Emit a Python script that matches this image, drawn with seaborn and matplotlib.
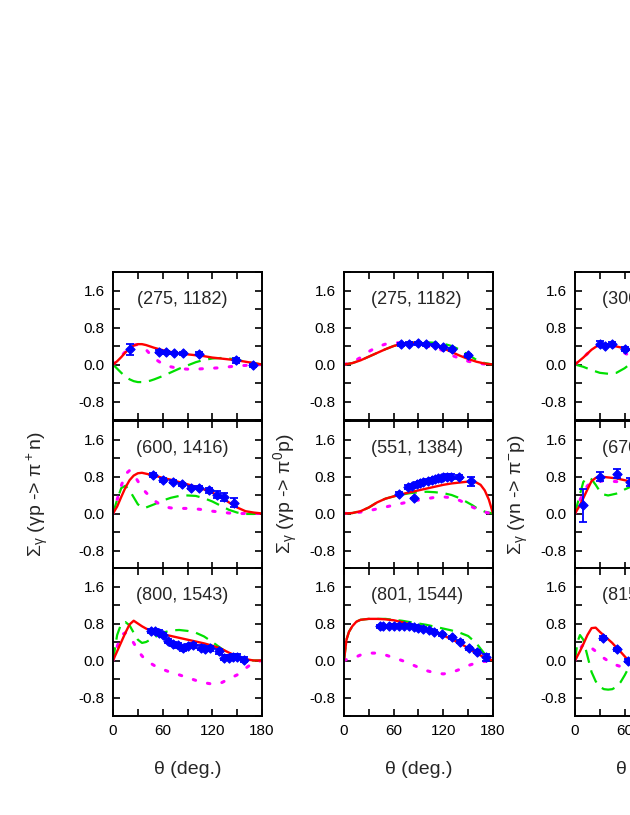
import numpy as np
import matplotlib
matplotlib.use("Agg")
import matplotlib.pyplot as plt
from matplotlib.ticker import FixedLocator, MultipleLocator, FormatStrFormatter
import seaborn as sns

# ---------------- data ----------------
# column 1: gamma p -> pi+ n
p11_title = "(275, 1182)"
p11_th = [0, 5, 10, 15, 20, 25, 30, 35, 40, 45, 50, 60, 70, 80, 90, 100, 110, 120, 130, 140, 150, 160, 170, 180]
p11_red = [0, 0.07, 0.16, 0.26, 0.35, 0.41, 0.44, 0.44, 0.42, 0.39, 0.36, 0.31, 0.27, 0.24, 0.22, 0.2, 0.18, 0.15, 0.13, 0.11, 0.09, 0.06, 0.03, 0]
p11_green = [0, -0.09, -0.18, -0.26, -0.32, -0.36, -0.38, -0.38, -0.37, -0.35, -0.32, -0.25, -0.17, -0.09, -0.02, 0.05, 0.1, 0.13, 0.14, 0.13, 0.1, 0.06, 0.03, 0]
p11_mag = [0, 0.08, 0.18, 0.28, 0.37, 0.42, 0.43, 0.40, 0.32, 0.22, 0.13, 0.01, -0.05, -0.09, -0.1, -0.1, -0.09, -0.08, -0.07, -0.05, -0.03, -0.02, -0.01, 0]
p11_dth = [20, 55, 64, 74, 85, 104, 149, 169]
p11_dval = [0.33, 0.28, 0.26, 0.25, 0.24, 0.23, 0.09, -0.02]
p11_derr = [0.12, 0.03, 0.03, 0.03, 0.03, 0.03, 0.05, 0.04]

p21_title = "(600, 1416)"
p21_th = [0, 5, 10, 15, 20, 25, 30, 35, 40, 50, 60, 70, 80, 90, 100, 110, 120, 130, 140, 150, 160, 170, 180]
p21_red = [0, 0.15, 0.36, 0.56, 0.72, 0.82, 0.87, 0.88, 0.86, 0.82, 0.77, 0.73, 0.68, 0.63, 0.58, 0.52, 0.45, 0.36, 0.24, 0.13, 0.05, 0.02, 0]
p21_green = [0, 0.3, 0.55, 0.6, 0.5, 0.35, 0.2, 0.13, 0.13, 0.2, 0.28, 0.34, 0.38, 0.39, 0.38, 0.33, 0.26, 0.17, 0.08, 0.02, -0.01, -0.01, 0]
p21_mag = [0, 0.3, 0.6, 0.85, 0.93, 0.85, 0.7, 0.56, 0.45, 0.28, 0.15, 0.12, 0.11, 0.11, 0.1, 0.08, 0.05, 0.03, 0.01, 0, 0, 0, 0]
p21_dth = [48, 61, 72, 83, 94, 104, 116, 126, 134, 146]
p21_dval = [0.83, 0.73, 0.69, 0.63, 0.56, 0.56, 0.5, 0.41, 0.36, 0.23]
p21_derr = [0.04, 0.04, 0.04, 0.04, 0.04, 0.04, 0.05, 0.08, 0.08, 0.1]

p31_title = "(800, 1543)"
p31_th = [0, 5, 10, 15, 20, 25, 30, 35, 40, 50, 60, 70, 80, 90, 100, 110, 120, 130, 140, 150, 160, 170, 180]
p31_red = [0, 0.2, 0.4, 0.6, 0.78, 0.86, 0.8, 0.74, 0.69, 0.62, 0.57, 0.53, 0.49, 0.45, 0.41, 0.37, 0.32, 0.26, 0.17, 0.09, 0.03, 0, 0]
p31_green = [0, 0.55, 0.8, 0.83, 0.76, 0.6, 0.45, 0.38, 0.4, 0.5, 0.6, 0.65, 0.66, 0.64, 0.6, 0.52, 0.4, 0.27, 0.15, 0.06, 0.01, 0, 0]
p31_mag = [0, 0.3, 0.55, 0.6, 0.5, 0.38, 0.22, 0.1, 0.0, -0.11, -0.19, -0.26, -0.31, -0.37, -0.43, -0.48, -0.51, -0.49, -0.40, -0.31, -0.17, -0.04, 0]
p31_dth = [46, 51, 56, 61, 66, 72, 78, 85, 90, 97, 106, 111, 117, 128, 134, 140, 145, 150, 158]
p31_dval = [0.64, 0.64, 0.6, 0.55, 0.42, 0.36, 0.33, 0.26, 0.31, 0.33, 0.28, 0.25, 0.26, 0.2, 0.06, 0.06, 0.08, 0.08, 0.02]
p31_derr = [0.05] * 19

# column 2: gamma p -> pi0 p
p12_title = "(275, 1182)"
p12_th = [0, 10, 20, 30, 40, 50, 60, 70, 80, 90, 100, 110, 120, 130, 140, 150, 160, 170, 180]
p12_red = [0, 0.03, 0.09, 0.17, 0.25, 0.33, 0.40, 0.45, 0.47, 0.47, 0.45, 0.41, 0.35, 0.27, 0.19, 0.12, 0.06, 0.02, 0]
p12_green = [0, 0.03, 0.09, 0.17, 0.25, 0.33, 0.40, 0.45, 0.47, 0.48, 0.48, 0.47, 0.45, 0.40, 0.32, 0.21, 0.1, 0.03, 0]
p12_mag = [0, 0.05, 0.15, 0.28, 0.38, 0.44, 0.47, 0.47, 0.46, 0.43, 0.40, 0.36, 0.30, 0.20, 0.13, 0.07, 0.03, 0.01, 0]
p12_dth = [69, 79, 89, 99, 110, 120, 130, 150]
p12_dval = [0.44, 0.45, 0.46, 0.44, 0.42, 0.38, 0.33, 0.2]
p12_derr = [0.03] * 8

p22_title = "(551, 1384)"
p22_th = [0, 10, 20, 30, 40, 50, 60, 70, 80, 90, 100, 110, 120, 130, 140, 150, 155, 160, 165, 170, 175, 180]
p22_red = [0, 0.01, 0.05, 0.13, 0.24, 0.32, 0.37, 0.42, 0.46, 0.5, 0.54, 0.58, 0.62, 0.65, 0.67, 0.69, 0.69, 0.67, 0.62, 0.5, 0.3, 0]
p22_green = [0, 0.01, 0.05, 0.13, 0.24, 0.32, 0.37, 0.41, 0.44, 0.46, 0.47, 0.46, 0.44, 0.40, 0.33, 0.23, 0.18, 0.12, 0.08, 0.04, 0.02, 0]
p22_mag = [0, 0.01, 0.03, 0.06, 0.1, 0.14, 0.18, 0.22, 0.26, 0.29, 0.32, 0.35, 0.36, 0.34, 0.28, 0.19, 0.14, 0.1, 0.06, 0.03, 0.01, 0]
p22_dth = [67, 77, 82, 84, 88, 92, 96, 101, 106, 110, 114, 117, 120, 124, 129, 139, 153]
p22_dval = [0.43, 0.57, 0.6, 0.34, 0.63, 0.66, 0.68, 0.7, 0.72, 0.74, 0.76, 0.77, 0.78, 0.8, 0.8, 0.79, 0.7]
p22_derr = [0.04, 0.05, 0.04, 0.0, 0.05, 0.04, 0.04, 0.04, 0.04, 0.04, 0.04, 0.04, 0.04, 0.05, 0.05, 0.05, 0.1]

p32_title = "(801, 1544)"
p32_th = [0, 3, 6, 10, 15, 20, 30, 40, 50, 60, 70, 80, 90, 100, 110, 120, 130, 140, 150, 160, 170, 180]
p32_red = [0, 0.45, 0.62, 0.74, 0.84, 0.88, 0.9, 0.9, 0.89, 0.87, 0.83, 0.78, 0.72, 0.67, 0.61, 0.54, 0.46, 0.37, 0.27, 0.16, 0.06, 0]
p32_green = [0, 0.45, 0.62, 0.74, 0.84, 0.88, 0.9, 0.9, 0.9, 0.88, 0.86, 0.83, 0.8, 0.77, 0.73, 0.69, 0.65, 0.6, 0.53, 0.37, 0.14, 0]
p32_mag = [0, 0.02, 0.03, 0.05, 0.08, 0.12, 0.16, 0.16, 0.12, 0.06, 0.0, -0.07, -0.15, -0.22, -0.27, -0.29, -0.26, -0.19, -0.11, -0.05, -0.02, 0]
p32_dth = [43, 47, 54, 60, 66, 72, 78, 84, 90, 96, 103, 109, 118, 130, 140, 151, 161, 171]
p32_dval = [0.74, 0.74, 0.74, 0.75, 0.75, 0.75, 0.75, 0.73, 0.71, 0.69, 0.66, 0.62, 0.57, 0.5, 0.41, 0.26, 0.19, 0.07]
p32_derr = [0.03] * 17 + [0.08]

# column 3: gamma n -> pi- p (partly outside the picture)
p13_title = "(300, 1203)"
p13_th = [0, 10, 20, 30, 40, 50, 60, 70, 80]
p13_red = [0, 0.15, 0.32, 0.44, 0.42, 0.39, 0.35, 0.3, 0.26]
p13_green = [0, -0.05, -0.12, -0.18, -0.2, -0.18, -0.08, 0.06, 0.12]
p13_mag = [0, 0.15, 0.32, 0.43, 0.43, 0.36, 0.25, 0.15, 0.1]
p13_dth = [30, 36, 45, 61]
p13_dval = [0.45, 0.41, 0.44, 0.33]
p13_derr = [0.05, 0.04, 0.04, 0.04]

p23_title = "(670, 1464)"
p23_th = [0, 5, 10, 15, 20, 25, 30, 35, 40, 50, 55, 60, 70, 80]
p23_red = [0, 0.15, 0.33, 0.52, 0.7, 0.77, 0.79, 0.79, 0.78, 0.76, 0.74, 0.72, 0.68, 0.64]
p23_green = [0, 0.35, 0.68, 0.78, 0.74, 0.62, 0.48, 0.41, 0.39, 0.43, 0.47, 0.52, 0.6, 0.62]
p23_mag = [0, 0.25, 0.45, 0.6, 0.67, 0.69, 0.7, 0.7, 0.7, 0.69, 0.68, 0.67, 0.64, 0.6]
p23_dth = [10, 30, 51, 66]
p23_dval = [0.18, 0.8, 0.86, 0.68]
p23_derr = [0.36, 0.1, 0.1, 0.08]

p33_title = "(815, 1554)"
p33_th = [0, 3, 6, 10, 15, 20, 25, 30, 35, 40, 45, 50, 55, 60, 65, 70, 80]
p33_red = [0, 0.1, 0.2, 0.35, 0.55, 0.7, 0.71, 0.62, 0.54, 0.46, 0.38, 0.28, 0.19, 0.09, -0.01, -0.07, -0.15]
p33_green = [0, 0.4, 0.55, 0.45, 0.1, -0.25, -0.45, -0.57, -0.62, -0.63, -0.62, -0.57, -0.47, -0.32, -0.15, 0.02, 0.2]
p33_mag = [0, 0.15, 0.25, 0.35, 0.34, 0.27, 0.2, 0.12, 0.05, -0.01, -0.06, -0.1, -0.13, -0.15, -0.15, -0.14, -0.1]
p33_dth = [34, 51, 64]
p33_dval = [0.49, 0.24, 0.0]
p33_derr = [0.04, 0.04, 0.04]

ylabels = [r"$Σ_γ$ (γp -> $π^+$n)", r"$Σ_γ$ (γp -> $π^0$p)", r"$Σ_γ$ (γn -> $π^{-}$p)"]
xlabel = "θ (deg.)"
xticks = [0, 60, 120, 180]
yticks = [-0.8, 0.0, 0.8, 1.6]

panels = [
    [(p11_title, p11_th, p11_red, p11_green, p11_mag, p11_dth, p11_dval, p11_derr),
     (p21_title, p21_th, p21_red, p21_green, p21_mag, p21_dth, p21_dval, p21_derr),
     (p31_title, p31_th, p31_red, p31_green, p31_mag, p31_dth, p31_dval, p31_derr)],
    [(p12_title, p12_th, p12_red, p12_green, p12_mag, p12_dth, p12_dval, p12_derr),
     (p22_title, p22_th, p22_red, p22_green, p22_mag, p22_dth, p22_dval, p22_derr),
     (p32_title, p32_th, p32_red, p32_green, p32_mag, p32_dth, p32_dval, p32_derr)],
    [(p13_title, p13_th, p13_red, p13_green, p13_mag, p13_dth, p13_dval, p13_derr),
     (p23_title, p23_th, p23_red, p23_green, p23_mag, p23_dth, p23_dval, p23_derr),
     (p33_title, p33_th, p33_red, p33_green, p33_mag, p33_dth, p33_dval, p33_derr)],
]

# ---------------- style ----------------
sns.set_theme(style="ticks")
plt.rcParams["font.family"] = ["Liberation Sans", "DejaVu Sans"]
plt.rcParams["mathtext.fontset"] = "custom"
plt.rcParams["mathtext.rm"] = "Liberation Sans"
plt.rcParams["mathtext.it"] = "Liberation Sans"
plt.rcParams["mathtext.default"] = "regular"
plt.rcParams["axes.unicode_minus"] = False

W, H = 630, 815
fig = plt.figure(figsize=(W / 100, H / 100), dpi=100)

col_left = [113, 344, 575]
row_top = [272, 421, 568]
aw, ah = 149, 148
ylab_x = [37, 286, 518]
title_x = [0.465, 0.487, 0.49]

for c in range(3):
    for r in range(3):
        title, th, red, green, mag, dth, dval, derr = panels[c][r]
        ax = fig.add_axes([col_left[c] / W, 1 - (row_top[r] + ah) / H, aw / W, ah / H])
        sns.lineplot(x=th, y=green, ax=ax, color="#00e000", lw=1.6,
                     linestyle=(0, (6, 3.5)), sort=False, errorbar=None)
        sns.lineplot(x=th, y=mag, ax=ax, color="#ff00ff", lw=2.2,
                     linestyle=(0, (0.8, 4.0)), sort=False, errorbar=None,
                     dash_capstyle="round")
        sns.lineplot(x=th, y=red, ax=ax, color="#ff0000", lw=1.7, sort=False, errorbar=None)
        ax.errorbar(dth, dval, yerr=derr, fmt="none", ecolor="#0000ff",
                    elinewidth=1.3, capsize=3.2, capthick=1.3, zorder=4)
        sns.scatterplot(x=dth, y=dval, ax=ax, marker="D", s=22, color="#0000ff",
                        edgecolor="#0000ff", linewidth=0.8, zorder=5)
        ax.set_xlim(0, 180)
        ax.set_ylim(-1.2, 2.0)
        ax.xaxis.set_major_locator(FixedLocator(xticks))
        ax.xaxis.set_minor_locator(MultipleLocator(30))
        ax.yaxis.set_major_locator(FixedLocator(yticks))
        ax.yaxis.set_minor_locator(MultipleLocator(0.4))
        ax.yaxis.set_major_formatter(FormatStrFormatter("%.1f"))
        ax.tick_params(which="both", direction="in", top=True, right=True,
                       length=5, width=1.2, colors="black", labelsize=11, pad=6)
        if r < 2:
            ax.tick_params(axis="x", labelbottom=False)
        for sp in ax.spines.values():
            sp.set_linewidth(1.4)
            sp.set_color("black")
        ax.set_xlabel("")
        ax.set_ylabel("")
        ax.text(title_x[c], 0.815, title, transform=ax.transAxes,
                ha="center", va="center", fontsize=13)
    fig.text(ylab_x[c] / W, 1 - 494 / H, ylabels[c], rotation=90,
             ha="center", va="center", fontsize=14)
    fig.text((col_left[c] + aw / 2) / W, 1 - 770 / H, xlabel,
             ha="center", va="center", fontsize=14)

fig.savefig("out.png", dpi=100)
